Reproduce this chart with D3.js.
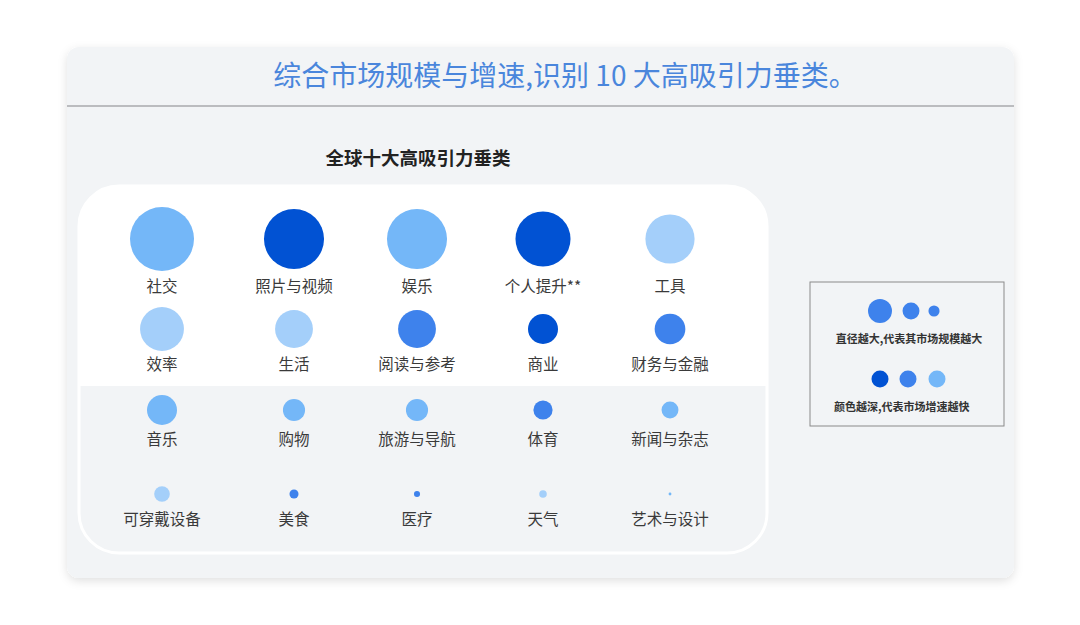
<!DOCTYPE html>
<html><head><meta charset="utf-8">
<script src="https://cdn.jsdelivr.net/npm/d3@7/dist/d3.min.js"></script>
<style>
html,body{margin:0;padding:0;background:#fff;}
svg{display:block;font-family:"Noto Sans CJK SC","Noto Sans",sans-serif;}
</style></head>
<body><svg id="c" width="1080" height="625"></svg>
<script>
// ---- data ----
const categories = ["社交","照片与视频","娱乐","个人提升**","工具",
                    "效率","生活","阅读与参考","商业","财务与金融",
                    "音乐","购物","旅游与导航","体育","新闻与杂志",
                    "可穿戴设备","美食","医疗","天气","艺术与设计"];
// relative market size (circle area)
const marketSize = [100,88,88,74,59, 47,35,35,22,23, 22,12,12,9,7, 6,2,0.9,1.4,0.2];
// growth tier: 1 = fastest (darkest) ... 4 = slowest (lightest)
const growthTier = [3,1,3,1,4, 4,4,2,1,2, 3,3,3,2,3, 4,2,2,4,3];
const title = "综合市场规模与增速,识别 10 大高吸引力垂类。";
const subtitle = "全球十大高吸引力垂类";
const legendSizeValues = [14,7,3];
const legendSizeText = "直径越大,代表其市场规模越大";
const legendColorTiers = [1,2,3];
const legendColorText = "颜色越深,代表市场增速越快";

// ---- drawing ----
const svg = d3.select("#c");
const defs = svg.append("defs");
const f = defs.append("filter").attr("id","sh").attr("x","-5%").attr("y","-5%").attr("width","110%").attr("height","115%");
f.append("feDropShadow").attr("dx",0).attr("dy",3).attr("stdDeviation",5).attr("flood-color","#000").attr("flood-opacity",0.12);

// card
svg.append("rect").attr("x",67).attr("y",47).attr("width",947).attr("height",531)
  .attr("rx",12).attr("fill","#f2f4f6").attr("filter","url(#sh)");
svg.append("line").attr("x1",67).attr("x2",1014).attr("y1",106).attr("y2",106)
  .attr("stroke","#a8aaac").attr("stroke-width",1.5);
svg.append("text").attr("x",565).attr("y",86).attr("text-anchor","middle")
  .attr("font-size",28).attr("fill","#4a86dc").text(title);

svg.append("text").attr("x",418).attr("y",165).attr("text-anchor","middle")
  .attr("font-size",18.5).attr("font-weight",700).attr("fill","#222").text(subtitle);

// inner panel
const px0=79, px1=767, py0=186, py1=553, pr=40, split=386;
defs.append("clipPath").attr("id","topclip").append("rect").attr("x",0).attr("y",0).attr("width",1080).attr("height",split);
svg.append("rect").attr("x",px0).attr("y",py0).attr("width",px1-px0).attr("height",py1-py0)
  .attr("rx",pr).attr("fill","#fff").attr("clip-path","url(#topclip)");
svg.append("rect").attr("x",px0).attr("y",py0).attr("width",px1-px0).attr("height",py1-py0)
  .attr("rx",pr).attr("fill","none").attr("stroke","#fff").attr("stroke-width",3);

const color = d3.scaleOrdinal().domain([1,2,3,4]).range(["#0152d3","#3e82ec","#74b7f8","#a4cffa"]);
const r = d3.scaleSqrt().domain([0,100]).range([0,32]);
const x = d3.scaleOrdinal().domain(d3.range(5)).range([162,294,417,543,670]);
const rowCy = [239,329,410,494];
const rowLy = [292,370,445,525];

const data = categories.map((c,i)=>({name:c,size:marketSize[i],tier:growthTier[i],col:i%5,row:Math.floor(i/5)}));
const g = svg.append("g");
g.selectAll("circle.b").data(data).join("circle").attr("class","b")
  .attr("cx",d=>x(d.col)).attr("cy",d=>rowCy[d.row]).attr("r",d=>r(d.size))
  .attr("fill",d=>color(d.tier));
g.selectAll("text.l").data(data).join("text").attr("class","l")
  .attr("x",d=>x(d.col)).attr("y",d=>rowLy[d.row]).attr("text-anchor","middle")
  .attr("font-size",15.5).attr("fill","#3a3a3a").text(d=>d.name);

// legend
svg.append("rect").attr("x",810).attr("y",282).attr("width",194).attr("height",144)
  .attr("fill","none").attr("stroke","#8a8a8a").attr("stroke-width",1);
const lx = [880,911,934];
svg.selectAll("circle.ls").data(legendSizeValues).join("circle").attr("class","ls")
  .attr("cx",(d,i)=>lx[i]).attr("cy",311).attr("r",d=>r(d))
  .attr("fill",color(2));
svg.append("text").attr("x",909).attr("y",343).attr("text-anchor","middle")
  .attr("font-size",11).attr("font-weight",700).attr("fill","#333").text(legendSizeText);
const lx2 = [880,908,937];
svg.selectAll("circle.lc").data(legendColorTiers).join("circle").attr("class","lc")
  .attr("cx",(d,i)=>lx2[i]).attr("cy",379).attr("r",8.5).attr("fill",d=>color(d));
svg.append("text").attr("x",834).attr("y",411).attr("text-anchor","start")
  .attr("font-size",11).attr("font-weight",700).attr("fill","#333").text(legendColorText);
</script></body></html>
